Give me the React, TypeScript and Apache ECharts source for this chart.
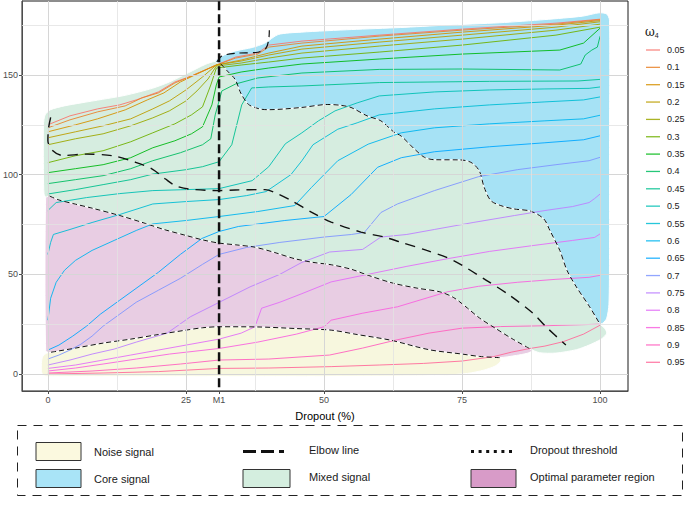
import React, { useEffect, useRef } from "react";
import * as echarts from "echarts";

const FONT = "'Liberation Sans', Arial, Helvetica, sans-serif";

// ---- axes ----
const X_MIN = -4.685;
const X_MAX = 105.05;
const Y_MIN = -8.53;
const Y_MAX = 187.12;
const M1 = 31;
const xTickValues = [0, 25, M1, 50, 75, 100];
const yTickValues = [0, 50, 100, 150];
const majorGridX = [0, 25, 50, 75, 100];
const minorGridX = [12.5, 37.5, 62.5, 87.5];
const majorGridY = [0, 50, 100, 150];
const minorGridY = [25, 75, 125, 175];

// ---- omega levels ----
const omegaLevels = ["0.05", "0.1", "0.15", "0.2", "0.25", "0.3", "0.35", "0.4", "0.45", "0.5", "0.55", "0.6", "0.65", "0.7", "0.75", "0.8", "0.85", "0.9", "0.95"];
const palette = ["#F8766D", "#E9842C", "#D69100", "#BC9D00", "#9CA700", "#6FB000", "#00B813", "#00BD61", "#00C08E", "#00C0B4", "#00BDD4", "#00B5EE", "#00A7FF", "#7F96FF", "#BC81FF", "#E26EF7", "#F863DF", "#FF62BF", "#FF6A9A"];

const w005 = [[0,125],[4,129.5],[9,133],[13,135],[16,137.5],[20,141.5],[23,146.5],[26,149.5],[30.5,155],[34,159],[38,161],[40,165],[46,167],[60,170],[75,173],[92,176],[100,178]];
const w010 = [[0,123.5],[4,127.5],[9,131.5],[14,134.5],[17,138.5],[20,141],[23,146],[26,149.5],[30.5,155],[34,158.5],[38,160.5],[40,164],[46,166],[60,169.5],[75,172.5],[92,175.5],[100,177.8]];
const w015 = [[0,121.5],[5,125],[9,128],[14,132.5],[18,137.5],[21,141],[24,146.5],[27,150.5],[30.5,155],[35,157.5],[40,161],[46,164.5],[60,168],[75,171.5],[92,175],[100,177.3]];
const w020 = [[0,118.5],[5,121.5],[10,124.5],[15,128],[19,133],[22,137],[25,142.5],[28,149],[30.5,155],[35,157],[40,160],[46,163],[60,166.5],[75,170],[92,174],[100,176.7]];
const w025 = [[0,115],[5,118],[10,120.5],[15,124.5],[19,128.5],[22,132],[25,137],[27,142],[29,148],[30.5,154.5],[35,156],[40,158.5],[46,161],[60,164.5],[75,168],[92,172.5],[100,175.5]];
const w030 = [[0,106],[5,109.5],[10,112],[15,116.5],[19,121],[23,125.5],[26,130],[28,134],[29.5,145],[30.5,153.5],[35,155],[40,156.5],[46,158.5],[60,161.5],[75,165],[92,170],[100,174]];
const w035 = [[0,101],[5,103],[10,105],[15,108.5],[19,113.5],[23,117],[26,120.5],[28,124],[29.7,135],[30.5,145],[31,149],[35,151.5],[40,153.5],[46,155.5],[60,158],[75,160.5],[92.7,162.5],[97,166],[100,173.5]];
const w040 = [[0,95.5],[5,97.5],[10,99.5],[15,103],[19,107],[24,111],[28,115],[29.5,118],[30.3,130],[31.5,142],[34,145.5],[38,148.5],[46,151],[60,152.8],[75,153],[92.7,152.5],[96.5,155.5],[97.3,160],[98.5,162.5],[99.5,164],[100,169.5]];
const w045 = [[0,90.3],[5,92.5],[10,95],[15,97.5],[19,100.3],[25,102.5],[28,104],[31,106.5],[33.3,115],[35.1,135],[36.9,143.5],[40,144],[46,144.5],[60,146.2],[80,146.8],[96,147],[100,147.8]];
const w050 = [[0,82],[1.5,86],[7,88.5],[13,90.5],[19,92],[25,92.5],[31,93],[37,97],[40,104],[43,115.5],[46,121],[49,127],[52,132],[56,136],[60,139.5],[70,141.5],[80,142.5],[90,143],[98,143.3],[100,144]];
const w055 = [[0,60],[0.5,66],[1,70],[4,72.5],[8,76],[13,80],[19,85.3],[25,86.5],[31,87.5],[36,89.5],[39.5,91.5],[44,100],[46,107],[48,115],[52.5,122.8],[56,126],[60,130],[70,133],[80,135],[90,136.5],[97,137.5],[100,139]];
const w060 = [[0,27],[0.5,38],[1.5,46],[3,52],[5,57],[8,62],[12,67],[16,72],[19,75.3],[25,77],[31,79],[38,81.5],[44.7,84.5],[47.7,93.5],[50,100],[52.5,107],[58,115.3],[64,121],[70,123.5],[80,125.5],[90,127],[97,128],[100,129.8]];
const w065 = [[0,12],[2,14.5],[4.5,19],[7,24],[9.5,30],[13,37],[16.5,44],[20,51],[24,60],[27.9,68],[31,71.5],[34.5,74],[42.9,77],[50,79],[54.9,90],[59.7,103.7],[64,108.5],[70,111.5],[80,114],[90,116],[97,117.5],[100,119.5]];
const w070 = [[0,7.5],[2,9.5],[4,12],[6,15],[8,19],[10,24],[13,30],[16,36],[20,42],[24,48],[28,55],[31,60],[36,63.5],[42,66],[50,68.7],[55,70],[57.3,71],[60.3,81],[63.3,85.3],[70,92],[78,99],[85,102.5],[92,105],[98,107],[100,108.7]];
const w075 = [[0,4.5],[4,7],[8,10],[12,12.5],[16,16],[21.6,20.5],[25.8,28.7],[31.2,36.2],[36.6,43.7],[42,50],[46,56],[51,61.2],[57,62.5],[60.3,68.7],[65,70],[70,72.5],[77,76],[84.5,79.5],[90,82],[95,84],[98,86],[99,88],[100,90.3]];
const w080 = [[0,2.8],[5,4.5],[10,7],[15,9.5],[20,12],[25,14.5],[31,17.5],[35,20.5],[37.5,23.7],[38.7,33],[42,36],[46,40.3],[51.3,46.2],[58.5,50.3],[65,54],[72.3,57.8],[80,61.5],[88,64.5],[95,67],[99,68.5],[100,70.3]];
const w085 = [[0,1.5],[5,3],[10,5],[16,7.5],[22,10],[31,12.8],[38,16],[45,20],[50,23.7],[51.3,27],[57,30.5],[63.3,33.7],[72.3,41.2],[78,44],[85,46],[92,47.5],[98,48.5],[100,49.5]];
const w090 = [[0,0.5],[8,1.5],[16,3],[24,5],[31,7],[40,7.5],[51,9.5],[57,13],[63,17],[69,20.5],[75,23],[82,23.8],[90,24.2],[100,25]];
const w095 = [[0,0],[10,0.5],[20,1.2],[31,2.8],[40,3],[51.3,3.7],[60,4.5],[68,5.3],[75,6.5],[80.7,8.7],[84,11],[87.3,12.8],[90,14],[93.3,16.2],[97,20],[100,24.5]];
const omegaSeries = [w005, w010, w015, w020, w025, w030, w035, w040, w045, w050, w055, w060, w065, w070, w075, w080, w085, w090, w095];

// ---- region outlines (data coordinates) ----
const pinkTop = [[-0.4,88.8],[0.3,89.3],[2,87.3],[5,85.2],[8,83.2],[13,79.5],[17.7,75.5],[21,72.5],[25,69.5],[28,67.3],[30.9,65.7],[34,64.8],[37.5,63.6],[41,61],[44.6,57.9],[48,56],[51.3,54.8],[55,52.5],[58,49.5],[62.6,45.5],[67,43],[71,41.2],[73.5,38.3],[76,33],[78.2,28],[81,23],[84,17.8],[87.2,12.8]];
const pinkTip = [[87.7,11.6],[86.8,10.4],[84.8,9.3]];
const pinkBottom = [[81.8,8.2],[78.2,8.8],[75,10],[69,12.2],[62,17],[56,19.8],[51.3,22],[45,22.8],[38,23.6],[31,23.7],[28,23.2],[25,22],[20,19.8],[15,17.5],[10,15.5],[5,13],[0.3,10.8]];
const noiseOuter = [[82,6.5],[81,4],[79,2],[76,0.3],[70,-0.8],[50,-1.1],[20,-1.1],[0,-1.1],[-0.9,-0.6],[-1.2,2],[-1.0,8.5],[-0.2,10.5]];
const coreBoundary = [[31.3,155.6],[32.5,152],[33.9,147.8],[35,140.5],[36.3,135.3],[37.5,133.7],[38.7,132.8],[40,132.6],[45.9,133.7],[50.7,135.2],[53,134.8],[54.9,133.7],[57.8,129.5],[60.3,127],[62.6,121.5],[64,119.3],[66.4,112.8],[68.2,108.7],[70,107.5],[74.6,107.4],[76.6,106.2],[78.1,102],[79,93.7],[80.2,87],[82,84.5],[84.4,82.8],[87.4,81.7],[89.8,77.8],[90.9,72],[92.7,62],[94,52],[95.7,43.7],[98.1,33.7],[99.9,25.3]];
const mixedTopLeft = [[-0.7,90.5],[-0.8,100],[-0.8,125],[-0.5,130],[0.5,132.6],[3,134.5],[6,136],[9.9,137.8],[14,139.8],[18.9,143.3],[22,146.5],[25.5,151.2],[28.5,155.3],[30.3,156.8]];
const mixedRightBlob = [[100.8,23],[101.2,20.5],[100.2,17.5],[98,14.5],[95.7,12.2],[92,10.5],[89,10.7]];
const coreTop = [[30.3,156.8],[31.5,159.5],[33.9,162],[37,163.8],[39.3,166],[41.7,170.3],[45.9,171.5],[55,172.8],[63.8,173.8],[72,175],[81.8,176.2],[90,177.8],[96.8,179.5],[99.8,181.2],[101.2,180.6],[101.7,177.5],[101.7,120],[101.7,60],[101.6,35],[101.2,28],[100.5,25.5]];

const elbowLine = [[0.5,128.7],[0.1,123],[0,117],[0.9,112],[2.7,109.6],[6.9,110.3],[11.7,109.5],[15.9,106.2],[18.9,102.8],[21.3,97.8],[23.1,94.5],[25.5,92.8],[30.9,92],[33.9,92.3],[39.3,92.5],[41.7,90.3],[44.1,87],[47.7,81.2],[51.3,76.2],[56.7,71.2],[60.9,68.7],[63.8,66.2],[68.6,62],[73.4,57],[79.4,47],[83.6,39.5],[87.9,30.3],[90.2,23.7],[93.8,14.5]];
const elbowTop = [[30.6,156.5],[31.5,159.5],[33.9,160.9],[38,161.4],[39.5,163.5],[40,168],[40.1,172.5]];
const thresholdLine = [[M1, 187], [M1, -7]];

const noiseRegion = [...pinkBottom.slice().reverse(), ...noiseOuter];
const optimalRegion = [...pinkTop, ...pinkTip, ...pinkBottom, [-0.4, 11.6]];
const mixedRegion = [...mixedTopLeft, ...coreBoundary, ...mixedRightBlob, ...pinkTop.slice().reverse()];
const coreRegion = [...coreTop, ...coreBoundary.slice().reverse()];

const bottomLegend = [
  { label: "Noise signal", kind: "fill", fill: "#FBF9DF" },
  { label: "Core signal", kind: "fill", fill: "#A9E4F7" },
  { label: "Elbow line", kind: "elbow" },
  { label: "Mixed signal", kind: "fill", fill: "#D4EEDF" },
  { label: "Dropout threshold", kind: "dotted" },
  { label: "Optimal parameter region", kind: "fill", fill: "#D89BC8" },
];

function regionSeries(name: string, pts: number[][], fill: string) {
  return {
    type: "custom",
    name,
    z: 2,
    silent: true,
    coordinateSystem: "cartesian2d",
    data: [pts[0]],
    renderItem: (_params: any, api: any) => {
      const points = pts.map((p) => api.coord(p));
      return {
        type: "polygon",
        shape: { points, smooth: 0.25 },
        style: { fill, stroke: "#ffffff", lineWidth: 1 },
      };
    },
  };
}

function dashedSeries(data: number[][], dash: number[], width: number, smooth: number, z: number) {
  return {
    type: "line",
    data,
    symbol: "none",
    showSymbol: false,
    smooth,
    silent: true,
    z,
    lineStyle: { color: "#111111", width, type: dash },
  };
}

export default function App() {
  const ref = useRef<HTMLDivElement>(null);
  useEffect(() => {
    document.body.style.margin = "0";
    const chart = echarts.init(ref.current!, null, { renderer: "svg" });

    const gridMarks = (vals: number[], axis: "xAxis" | "yAxis") => vals.map((v) => ({ [axis]: v }));

    const legendGraphics: any[] = [];
    // right legend
    legendGraphics.push({
      type: "text",
      x: 645,
      y: 32,
      style: {
        text: "{a|\u03c9}{b|4}",
        fill: "#1a1a1a",
        textVerticalAlign: "middle",
        verticalAlign: "middle",
        rich: {
          a: { fontSize: 12, fontFamily: "'DejaVu Serif', serif", fill: "#1a1a1a", lineHeight: 14, verticalAlign: "middle" },
          b: { fontSize: 7, fontFamily: FONT, fill: "#1a1a1a", lineHeight: 14, verticalAlign: "bottom" },
        },
      },
    });
    omegaLevels.forEach((lab, i) => {
      const y = 50 + i * 17.35;
      legendGraphics.push({ type: "line", shape: { x1: 646, y1: y, x2: 660, y2: y }, style: { stroke: palette[i], lineWidth: 1.3, opacity: 0.85 } });
      legendGraphics.push({ type: "text", x: 667, y, style: { text: lab, fontSize: 9, fontFamily: FONT, fill: "#1a1a1a", textVerticalAlign: "middle", verticalAlign: "middle" } });
    });
    // bottom legend box
    legendGraphics.push({ type: "rect", shape: { x: 17.5, y: 425.5, width: 665, height: 70 }, style: { fill: "none", stroke: "#222", lineWidth: 1, lineDash: [9, 7] } });
    const cols = [
      { keyX: 36, keyW: 45, textX: 94 },
      { keyX: 243, keyW: 47, textX: 309 },
      { keyX: 471, keyW: 45, textX: 530 },
    ];
    bottomLegend.forEach((item, i) => {
      const col = cols[Math.floor(i / 2)];
      const row = i % 2;
      const cy = row === 0 ? 451.5 : 478.5;
      if (item.kind === "fill") {
        legendGraphics.push({ type: "rect", shape: { x: col.keyX, y: cy - 9, width: col.keyW, height: 18 }, style: { fill: item.fill, stroke: "#333", lineWidth: 1 } });
      } else if (item.kind === "elbow") {
        legendGraphics.push({ type: "line", shape: { x1: col.keyX, y1: cy, x2: col.keyX + 41, y2: cy }, style: { stroke: "#111", lineWidth: 3, lineDash: [13, 5] } });
      } else {
        legendGraphics.push({ type: "line", shape: { x1: col.keyX, y1: cy, x2: col.keyX + 44, y2: cy }, style: { stroke: "#111", lineWidth: 3, lineDash: [3, 4.6] } });
      }
      legendGraphics.push({ type: "text", x: col.textX, y: cy - (i >= 2 ? 2 : 0), style: { text: item.label, fontSize: 11, fontFamily: FONT, fill: "#1a1a1a", textVerticalAlign: "middle", verticalAlign: "middle" } });
    });

    const option: any = {
      animation: false,
      backgroundColor: "#ffffff",
      grid: { left: 19, right: 57, top: 1, bottom: 114, show: true, borderColor: "#1a1a1a", borderWidth: 1, backgroundColor: "transparent" },
      xAxis: {
        type: "value",
        min: X_MIN,
        max: X_MAX,
        axisLine: { show: true, onZero: false, lineStyle: { color: "#4d4d4d", width: 1 } },
        axisTick: { show: true, length: 3, customValues: xTickValues, lineStyle: { color: "#4d4d4d" } },
        axisLabel: { customValues: xTickValues, formatter: (v: number) => (v === M1 ? "M1" : String(v)), color: "#4d4d4d", fontSize: 9, margin: 4, fontFamily: FONT },
        splitLine: { show: false },
        name: "Dropout (%)",
        nameLocation: "middle",
        nameGap: 19,
        nameTextStyle: { fontSize: 11, color: "#000", fontFamily: FONT },
      },
      yAxis: {
        type: "value",
        min: Y_MIN,
        max: Y_MAX,
        axisLine: { show: true, onZero: false, lineStyle: { color: "#4d4d4d", width: 1 } },
        axisTick: { show: true, length: 3, customValues: yTickValues, lineStyle: { color: "#4d4d4d" } },
        axisLabel: { customValues: yTickValues, color: "#4d4d4d", fontSize: 9, margin: 4, fontFamily: FONT },
        splitLine: { show: false },
      },
      graphic: legendGraphics,
      series: [
        {
          type: "line",
          data: [],
          z: 1,
          silent: true,
          markLine: {
            silent: true,
            symbol: ["none", "none"],
            label: { show: false },
            lineStyle: { color: "#d6d6d6", width: 1, type: "solid" },
            data: [...gridMarks(majorGridX, "xAxis"), ...gridMarks(majorGridY, "yAxis")],
          },
        },
        {
          type: "line",
          data: [],
          z: 1,
          silent: true,
          markLine: {
            silent: true,
            symbol: ["none", "none"],
            label: { show: false },
            lineStyle: { color: "#e2e2e2", width: 0.8, type: "solid" },
            data: [...gridMarks(minorGridX, "xAxis"), ...gridMarks(minorGridY, "yAxis")],
          },
        },
        regionSeries("Noise signal", noiseRegion, "rgba(243,243,205,0.65)"),
        regionSeries("Optimal parameter region", optimalRegion, "rgba(214,164,204,0.55)"),
        regionSeries("Mixed signal", mixedRegion, "rgba(187,225,203,0.6)"),
        regionSeries("Core signal", coreRegion, "rgba(128,214,241,0.7)"),
        ...omegaSeries.map((d, i) => ({
          type: "line",
          name: omegaLevels[i],
          data: d,
          symbol: "none",
          showSymbol: false,
          silent: true,
          z: 3,
          lineStyle: { color: palette[i], width: 1, opacity: 0.9 },
        })),
        dashedSeries(pinkTop.slice(1), [5, 3], 1, 0.3, 4),
        dashedSeries(pinkBottom, [5, 3], 1, 0.3, 4),
        dashedSeries(coreBoundary, [5, 3], 1, 0.3, 4),
        dashedSeries(elbowLine, [10, 7], 1.4, 0.3, 5),
        dashedSeries(elbowTop, [8, 5], 1.2, 0.3, 5),
        dashedSeries(thresholdLine, [9, 4], 2.5, 0, 6),
      ],
    };
    chart.setOption(option);
    return () => chart.dispose();
  }, []);
  return <div ref={ref} style={{ width: 685, height: 505 }} />;
}
